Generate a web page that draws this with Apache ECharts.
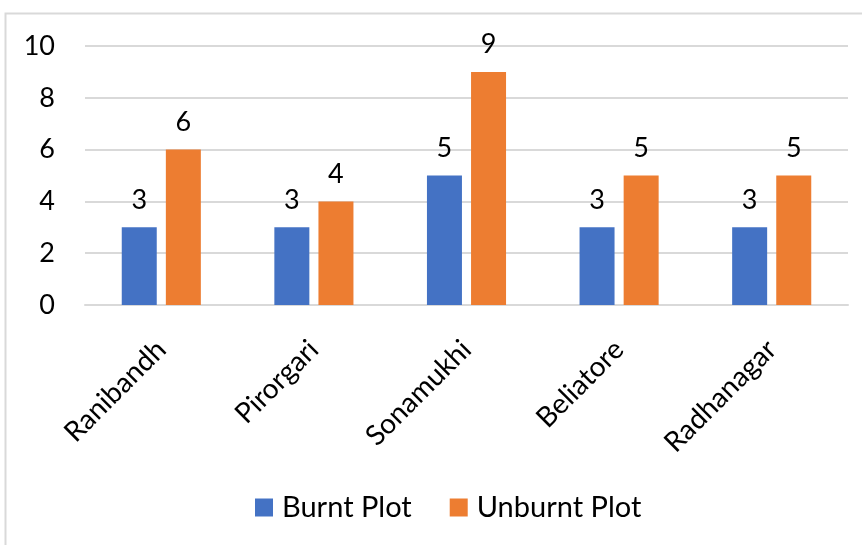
<!DOCTYPE html>
<html>
<head>
<meta charset="utf-8">
<script src="https://cdn.jsdelivr.net/npm/echarts@6/dist/echarts.min.js"></script>
<style>
  html, body { margin: 0; padding: 0; background: #fff; }
  #chart { width: 862px; height: 545px; }
</style>
</head>
<body>
<div id="chart"></div>
<script>
const places = ['Ranibandh', 'Pirorgari', 'Sonamukhi', 'Beliatore', 'Radhanagar']
const burnt = [3, 3, 5, 3, 3]
const unburnt = [6, 4, 9, 5, 5]

const font = 'Lato, "Open Sans", sans-serif'

const chart = echarts.init(document.getElementById('chart'))
chart.setOption({
  animation: false,
  textStyle: { fontFamily: font },
  graphic: [
    {
      type: 'rect',
      shape: { x: 5.5, y: 13.5, width: 900, height: 600 },
      style: { fill: 'none', stroke: '#d9d9d9', lineWidth: 2 },
      silent: true
    }
  ],
  grid: {
    left: 85,
    right: 14,
    top: 46,
    bottom: 240
  },
  legend: {
    bottom: 18,
    left: 250,
    itemWidth: 18,
    itemHeight: 18,
    itemGap: 38,
    icon: 'rect',
    textStyle: { fontSize: 29, color: '#000', fontFamily: font, padding: [0, 0, 0, 4] }
  },
  xAxis: {
    type: 'category',
    data: places,
    axisLine: { lineStyle: { color: '#d9d9d9', width: 2 } },
    axisTick: { show: false },
    axisLabel: {
      rotate: 45,
      fontSize: 28,
      color: '#000',
      margin: 40,
      interval: 0
    }
  },
  yAxis: {
    type: 'value',
    min: 0,
    max: 10,
    interval: 2,
    axisLine: { show: false },
    axisTick: { show: false },
    splitLine: { lineStyle: { color: '#d9d9d9', width: 2 } },
    axisLabel: { fontSize: 27, color: '#000', margin: 30 }
  },
  series: [
    {
      name: 'Burnt Plot',
      type: 'bar',
      data: burnt,
      barWidth: 35,
      barGap: '26%',
      itemStyle: { color: '#4472c4' },
      label: { show: true, position: 'top', distance: 14, fontSize: 27, color: '#000' }
    },
    {
      name: 'Unburnt Plot',
      type: 'bar',
      data: unburnt,
      barWidth: 35,
      itemStyle: { color: '#ed7d31' },
      label: { show: true, position: 'top', distance: 14, fontSize: 27, color: '#000' }
    }
  ]
})
</script>
</body>
</html>
